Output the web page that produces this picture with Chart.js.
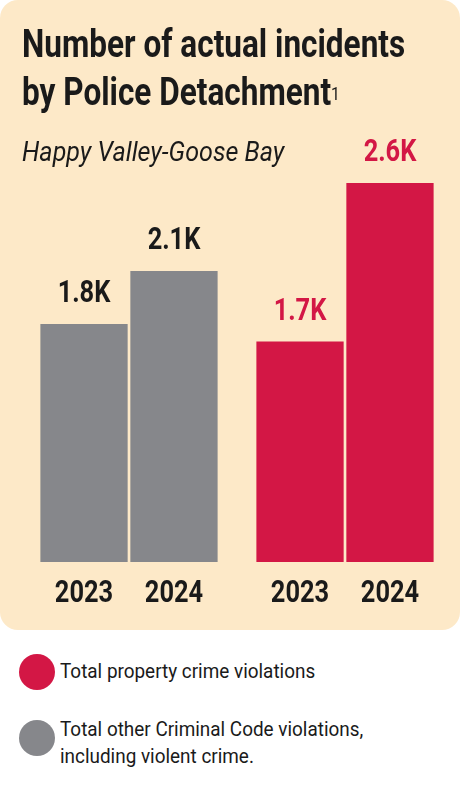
<!DOCTYPE html>
<html><head><meta charset="utf-8">
<script src="https://cdn.jsdelivr.net/npm/chart.js@4"></script>
<style>
body{margin:0;width:462px;height:793px;background:#fff;font-family:Roboto,sans-serif;position:relative;overflow:hidden}
#card{position:absolute;left:0;top:0;width:460px;height:630px;background:#fde9c8;border-radius:18px}
#c{position:absolute;left:0;top:0}
.t{position:absolute;left:22px;font-weight:bold;font-size:38px;color:#1a1a1a;line-height:48px;white-space:nowrap;transform:scaleX(0.83);transform-origin:left top}
.t sup{font-size:19px;font-weight:normal;vertical-align:top;position:relative;top:2px}
.s{position:absolute;left:22px;top:136px;font-style:italic;font-size:27px;color:#1a1a1a;white-space:nowrap;transform:scaleX(0.93);transform-origin:left top}
.dot{position:absolute;width:36px;height:36px;border-radius:50%}
.lg{position:absolute;left:60px;font-size:21px;color:#1a1a1a;line-height:27px;white-space:nowrap;transform:scaleX(0.9);transform-origin:left top}
</style></head><body>
<div id="card"></div>
<canvas id="c" width="462" height="630" style="width:462px;height:630px"></canvas>
<div class="t" style="top:20px">Number of actual incidents<br>by Police Detachment<sup>1</sup></div>
<div class="s">Happy Valley-Goose Bay</div>
<div class="dot" style="left:19px;top:654px;background:#d31745"></div>
<div class="lg" style="top:658px">Total property crime violations</div>
<div class="dot" style="left:19px;top:720px;background:#86878b"></div>
<div class="lg" style="top:716px">Total other Criminal Code violations,<br>including violent crime.</div>
<script>
const groups = ["Other Criminal Code", "Property crime"];
const years = ["2023", "2024"];
const values2023 = [1800, 1700];
const values2024 = [2100, 2600];
const valueLabels2023 = ["1.8K", "1.7K"];
const valueLabels2024 = ["2.1K", "2.6K"];
const colors = ["#86878b", "#d31745"];
const labelColors = ["#1a1a1a", "#d31745"];
const FONT = 'Roboto,sans-serif';
function narrowText(ctx, txt, x, y) {
  ctx.save();
  ctx.translate(x, y);
  ctx.scale(0.82, 1);
  ctx.fillText(txt, 0, 0);
  ctx.restore();
}
const labelsPlugin = {
  id: 'lbl',
  afterDatasetsDraw(chart) {
    const ctx = chart.ctx;
    const vl = [valueLabels2023, valueLabels2024];
    chart.data.datasets.forEach((ds, di) => {
      chart.getDatasetMeta(di).data.forEach((bar, i) => {
        ctx.save();
        ctx.textAlign = 'center';
        ctx.font = 'bold 31px ' + FONT;
        ctx.fillStyle = labelColors[i];
        ctx.textBaseline = 'bottom';
        narrowText(ctx, vl[di][i], bar.x, bar.y - 14);
        ctx.fillStyle = '#1a1a1a';
        ctx.textBaseline = 'middle';
        narrowText(ctx, years[di], bar.x, 594);
        ctx.restore();
      });
    });
  }
};
new Chart(document.getElementById('c'), {
  type: 'bar',
  data: {
    labels: groups,
    datasets: [
      {label: years[0], data: values2023, backgroundColor: colors},
      {label: years[1], data: values2024, backgroundColor: colors}
    ]
  },
  options: {
    responsive: false, animation: false,
    layout: {padding: {left: 21, right: 9, top: 130, bottom: 68}},
    categoryPercentage: 0.833, barPercentage: 0.97,
    plugins: {legend: {display: false}, tooltip: {enabled: false}},
    scales: {
      x: {display: false},
      y: {display: false, min: 450, max: 2900}
    }
  },
  plugins: [labelsPlugin]
});
</script>
</body></html>
